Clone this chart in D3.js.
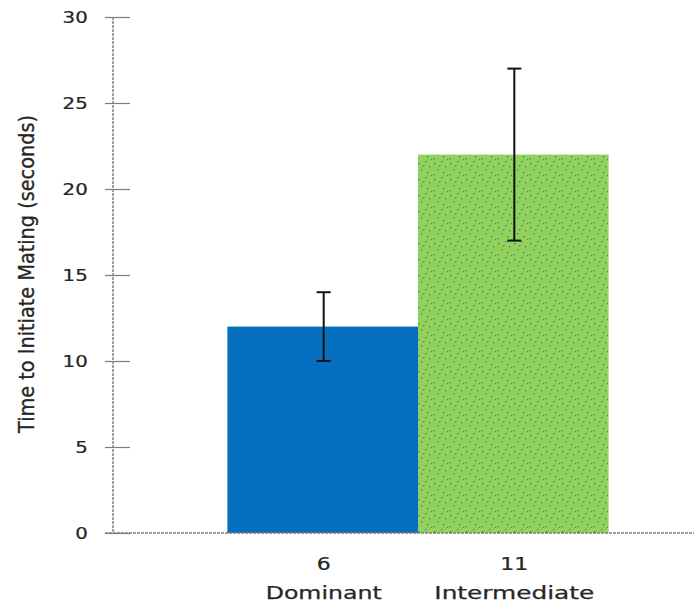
<!DOCTYPE html>
<html>
<head>
<meta charset="utf-8">
<script src="https://cdn.jsdelivr.net/npm/d3@7"></script>
<style>
  html, body { margin: 0; padding: 0; background: #fff; }
  svg { display: block; }
  text { font-family: "DejaVu Sans", sans-serif; fill: #262626; stroke: #262626; stroke-width: 0.25px; }
</style>
</head>
<body>
<svg id="chart" width="694" height="603"></svg>
<script>
// Group labels and mating-latency summary (mean with error range)
const groupRanks = ["6", "11"];
const groupNames = ["Dominant", "Intermediate"];
const meanTimes = [12, 22];
const errLow = [10, 17];
const errHigh = [14, 27];
const yTicks = [0, 5, 10, 15, 20, 25, 30];
const yTitle = "Time to Initiate Mating (seconds)";

const svg = d3.select("#chart");
const defs = svg.append("defs");

// Stippled fills for the two bars
const bluePat = defs.append("pattern")
  .attr("id", "fillBlue").attr("patternUnits", "userSpaceOnUse")
  .attr("width", 4).attr("height", 4);
bluePat.append("rect").attr("width", 4).attr("height", 4).attr("fill", "#0472c4");
bluePat.append("rect").attr("x", 0).attr("y", 0).attr("width", 1).attr("height", 1).attr("fill", "#16609f");
bluePat.append("rect").attr("x", 2).attr("y", 2).attr("width", 1).attr("height", 1).attr("fill", "#16609f");

const greenPat = defs.append("pattern")
  .attr("id", "fillGreen").attr("patternUnits", "userSpaceOnUse")
  .attr("width", 16).attr("height", 16);
greenPat.append("rect").attr("width", 16).attr("height", 16).attr("fill", "#93d158");
[[2, 3], [9, 1], [13, 6], [5, 9], [11, 12], [1, 14], [7, 5], [15, 15]].forEach(([px, py]) => {
  greenPat.append("rect").attr("x", px).attr("y", py).attr("width", 1.4).attr("height", 1.4)
    .attr("fill", "#2a8f9a");
});

const y = d3.scaleLinear().domain([0, 30]).range([533, 17]);
const x = d3.scaleBand().domain(groupRanks).range([113, 723])
  .paddingInner(0).paddingOuter(0.6);

const axisColor = "#7d7d7d";

// Y axis: line plus ticks that cross it
const yAxis = svg.append("g").attr("transform", "translate(113,0)")
  .call(d3.axisLeft(y).tickValues(yTicks).tickSize(0).tickPadding(24));
yAxis.select(".domain").remove();
yAxis.selectAll(".tick text")
  .attr("font-size", 16.5)
  .attr("transform", "scale(1.2,1)")
  .attr("x", -21)
  .style("fill", "#262626");
yAxis.selectAll(".tick").append("line")
  .attr("x1", -8).attr("x2", 17)
  .attr("stroke", axisColor).attr("stroke-width", 1.2);
yAxis.append("line")
  .attr("y1", y(30)).attr("y2", y(0))
  .attr("stroke", axisColor).attr("stroke-width", 1.4)
  .attr("stroke-dasharray", "3,1");

// Bars
const fills = ["url(#fillBlue)", "url(#fillGreen)"];
svg.append("g").selectAll("rect")
  .data(groupRanks)
  .join("rect")
  .attr("x", d => x(d))
  .attr("width", x.bandwidth())
  .attr("y", (d, i) => y(meanTimes[i]))
  .attr("height", (d, i) => y(0) - y(meanTimes[i]))
  .attr("fill", (d, i) => fills[i]);

// X axis baseline
svg.append("line")
  .attr("x1", 105).attr("x2", 694)
  .attr("y1", y(0)).attr("y2", y(0))
  .attr("stroke", axisColor).attr("stroke-width", 1.4)
  .attr("stroke-dasharray", "3,1");

// Error bars
const eb = svg.append("g").selectAll("g")
  .data(groupRanks)
  .join("g")
  .attr("transform", d => `translate(${x(d) + x.bandwidth() / 2 + 1},0)`);
eb.append("line")
  .attr("y1", (d, i) => y(errLow[i])).attr("y2", (d, i) => y(errHigh[i]))
  .attr("stroke", "#111").attr("stroke-width", 2);
eb.append("line")
  .attr("x1", -7).attr("x2", 7)
  .attr("y1", (d, i) => y(errHigh[i])).attr("y2", (d, i) => y(errHigh[i]))
  .attr("stroke", "#111").attr("stroke-width", 2);
eb.append("line")
  .attr("x1", -7).attr("x2", 7)
  .attr("y1", (d, i) => y(errLow[i])).attr("y2", (d, i) => y(errLow[i]))
  .attr("stroke", "#111").attr("stroke-width", 2);

// Category labels: rank number over group name
const nameWidths = { Dominant: 116, Intermediate: 160 };
const lab = svg.append("g").selectAll("g")
  .data(groupRanks)
  .join("g")
  .attr("transform", d => `translate(${x(d) + x.bandwidth() / 2 + 1},0)`);
lab.append("text")
  .attr("y", 570).attr("text-anchor", "middle").attr("font-size", 18)
  .attr("transform", "scale(1.22,1)")
  .text(d => d);
lab.append("text")
  .attr("y", 599).attr("text-anchor", "middle").attr("font-size", 18)
  .attr("textLength", (d, i) => nameWidths[groupNames[i]])
  .attr("lengthAdjust", "spacingAndGlyphs")
  .text((d, i) => groupNames[i]);

// Y axis title
svg.append("text")
  .attr("transform", "translate(34,274) scale(1.3,1) rotate(-90)")
  .attr("text-anchor", "middle")
  .attr("font-size", 16.5)
  .attr("textLength", 318)
  .attr("lengthAdjust", "spacingAndGlyphs")
  .text(yTitle);
</script>
</body>
</html>
